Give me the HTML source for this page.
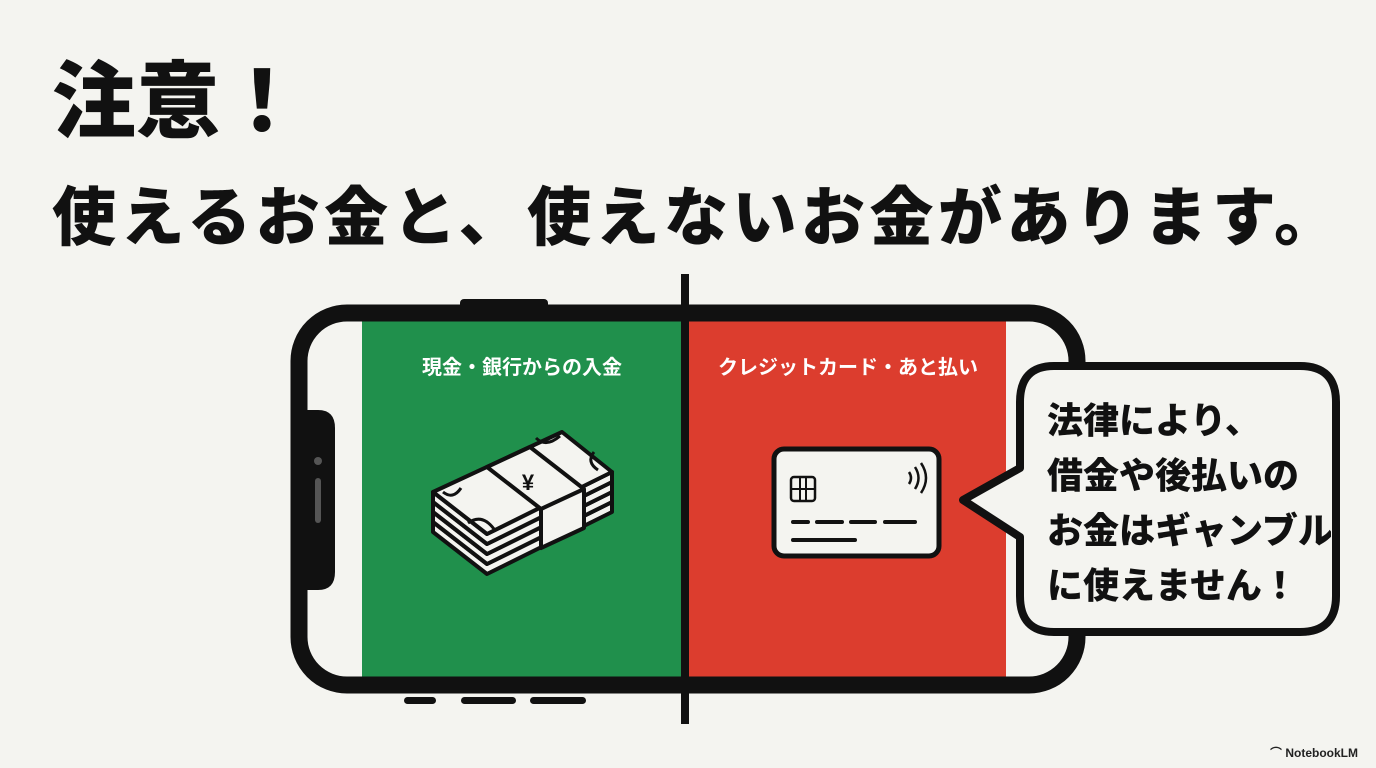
<!DOCTYPE html>
<html><head><meta charset="utf-8"><style>
body{margin:0;width:1376px;height:768px;background:#f4f4f0;position:relative;overflow:hidden;font-family:"Liberation Sans","Noto Sans CJK JP",sans-serif;}
.t{position:absolute;font-weight:900;color:#111;white-space:nowrap;}
</style></head><body>
<div class="t" style="left:52px;top:52px;font-size:84px;line-height:100px;">注意！</div>
<div class="t" style="left:52px;top:178px;font-size:64px;line-height:80px;letter-spacing:4.5px;">使えるお金と、使えないお金があります。</div>
<svg width="1376" height="768" style="position:absolute;left:0;top:0">
  <rect x="362" y="320" width="322" height="358" fill="#20904c"/>
  <rect x="688" y="320" width="318" height="358" fill="#dc3d2e"/>
  <rect x="460" y="299" width="88" height="12" rx="4" fill="#111"/>
  <rect x="299" y="313" width="778" height="372" rx="48" fill="none" stroke="#111" stroke-width="17"/>
  <path d="M300 410 H318 Q335 410 335 428 V572 Q335 590 318 590 H300 Z" fill="#111"/>
  <circle cx="318" cy="461" r="4" fill="#555"/>
  <rect x="315" y="478" width="6" height="45" rx="3" fill="#555"/>
  <rect x="404" y="697" width="32" height="7" rx="3.5" fill="#111"/>
  <rect x="461" y="697" width="55" height="7" rx="3.5" fill="#111"/>
  <rect x="530" y="697" width="56" height="7" rx="3.5" fill="#111"/>
  <rect x="681" y="274" width="8" height="450" fill="#111"/>
  <!-- money -->
  <g stroke="#111" stroke-width="4" stroke-linejoin="round" fill="#f4f4f0">
    <path d="M433 532 L487 574 L612 512 L612 502 L487 564 L433 522 Z"/>
    <path d="M433 522 L487 564 L612 502 L612 492 L487 554 L433 512 Z"/>
    <path d="M433 512 L487 554 L612 492 L612 482 L487 544 L433 502 Z"/>
    <path d="M433 502 L487 544 L612 482 L612 472 L487 534 L433 492 Z"/>
    <path d="M433 492 L562 432 L612 472 L487 534 Z"/>
    <path d="M487 467 L530 447 L584 489 L584 528 L541 548 L541 509 Z"/>
    <path d="M541 509 L584 489" fill="none"/>
  </g>
  <g fill="none" stroke="#111" stroke-width="3">
    <path d="M443 492 q10 8 18 -4"/>
    <path d="M468 523 q14 -10 26 6"/>
    <path d="M536 438 q10 10 24 -2"/>
    <path d="M598 470 q-12 -8 -4 -18"/>
  </g>
  <text x="528" y="490" font-size="22" font-weight="900" fill="#111" text-anchor="middle">¥</text>
  <!-- card -->
  <rect x="774" y="449" width="165" height="107" rx="10" fill="#f4f4f0" stroke="#111" stroke-width="5"/>
  <rect x="791" y="477" width="24" height="24" rx="3" fill="none" stroke="#111" stroke-width="2.5"/>
  <path d="M791 489 H815 M800 477 V501 M806 477 V501" stroke="#111" stroke-width="2"/>
  <path d="M909 472 q4 6 0 12 M915 467 q7 11 0 22 M921 463 q10 15 0 30" fill="none" stroke="#111" stroke-width="2.5"/>
  <path d="M793 522 H808 M817 522 H842 M851 522 H875 M885 522 H915" stroke="#111" stroke-width="4" stroke-linecap="round"/>
  <path d="M793 540 H855" stroke="#111" stroke-width="4" stroke-linecap="round"/>
  <!-- bubble -->
  <path d="M1054 366 H1300 Q1336 366 1336 402 V596 Q1336 632 1300 632 H1054 Q1020 632 1020 596 V537 L963 500 L1020 468 V402 Q1020 366 1054 366 Z" fill="#f4f4f0" stroke="#111" stroke-width="8" stroke-linejoin="round"/>
  <text x="522" y="374" font-size="20" font-weight="700" fill="#fff" text-anchor="middle" font-family="Liberation Sans,Noto Sans CJK JP,sans-serif">現金・銀行からの入金</text>
  <text x="848" y="374" font-size="20" font-weight="700" fill="#fff" text-anchor="middle" font-family="Liberation Sans,Noto Sans CJK JP,sans-serif">クレジットカード・あと払い</text>
</svg>
<div style="position:absolute;left:1047px;top:393px;width:284px;overflow:hidden;white-space:nowrap;font-size:36px;font-weight:900;line-height:55px;color:#111;">法律により、<br>借金や後払いの<br>お金はギャンブル<br>に使えません！</div>
<div style="position:absolute;left:1270px;top:744px;font-size:12px;font-weight:700;color:#222;">⌒ NotebookLM</div>
</body></html>
